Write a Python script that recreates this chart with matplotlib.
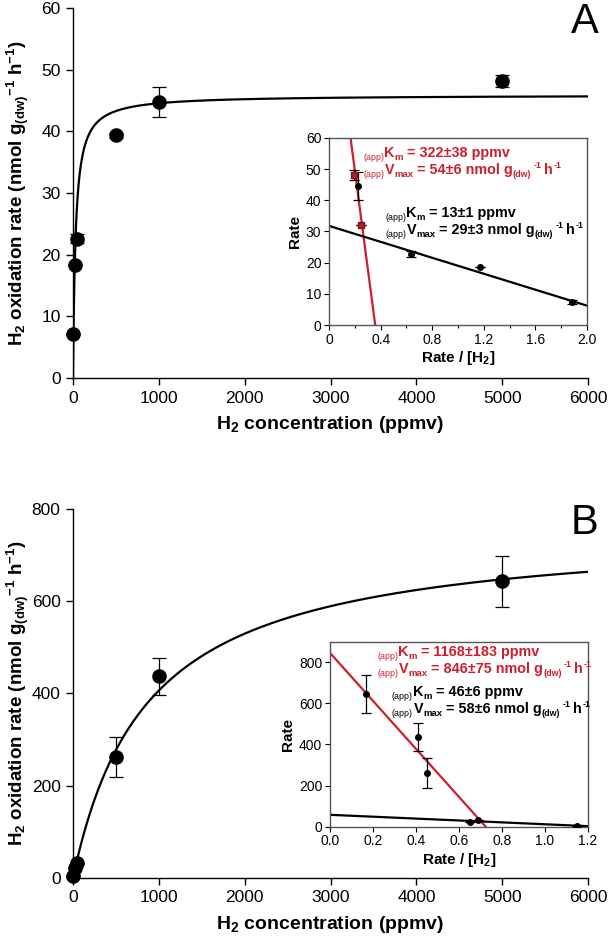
import numpy as np
import matplotlib
matplotlib.use('Agg')
import matplotlib.pyplot as plt
from matplotlib.transforms import offset_copy

plt.rcParams['font.family'] = ['Liberation Sans', 'DejaVu Sans']
plt.rcParams['mathtext.fontset'] = 'custom'
plt.rcParams['mathtext.rm'] = 'Liberation Sans'
plt.rcParams['mathtext.bf'] = 'Liberation Sans:bold'
plt.rcParams['mathtext.it'] = 'Liberation Sans:italic'

RED = '#cc1f2e'
W, H = 611, 947

# Panel A - main data
a_conc = [3, 20, 50, 500, 1000, 5000]
a_rate = [7.1, 18.3, 22.6, 39.4, 44.8, 48.2]
a_err = [0, 0, 0.7, 0.4, 2.4, 1.0]
a_vmax_fit, a_km_fit = 45.9, 30

# Panel A - inset (Eadie-Hofstee)
a_in_black_x = [0.225, 0.636, 1.173, 1.88]
a_in_black_y = [44.7, 22.9, 18.5, 7.4]
a_in_black_err = [4.5, 1.0, 0, 0.5]
a_in_red_x = [0.196, 0.248]
a_in_red_y = [48.1, 32.0]
a_in_red_err = [1.5, 0]
a_red_line = (112.4, -314)     # intercept, slope
a_black_line = (31.8, -12.8)
a_red_km, a_red_vmax = '322±38', '54±6'
a_black_km, a_black_vmax = '13±1', '29±3'

# Panel B - main data
b_conc = [3, 20, 50, 500, 1000, 5000]
b_rate = [5, 21, 33, 262, 437, 643]
b_err = [0, 0, 0, 44, 40, 55]
b_vmax_fit, b_km_fit = 760, 870

# Panel B - inset
b_in_x = [0.167, 0.411, 0.45, 0.651, 0.69, 1.148]
b_in_y = [645, 438, 261, 21, 33, 5]
b_in_err = [92, 68, 75, 0, 0, 0]
b_red_line = (846, -1168)
b_black_line = (58, -46)
b_red_km, b_red_vmax = '1168±183', '846±75'
b_black_km, b_black_vmax = '46±6', '58±6'

ylab = r'H$_\mathbf{2}$ oxidation rate (nmol g$_\mathbf{(dw)}$$^\mathbf{-1}$ h$^\mathbf{-1}$)'
xlab = r'H$_\mathbf{2}$ concentration (ppmv)'


def rich(fig, x_px, y_px, pieces, color):
    # draw pieces of text one after another on a common baseline
    renderer = fig.canvas.get_renderer()
    x0, y0 = x_px / W, 1 - y_px / H
    dx = 0
    for s, size, dy, bold, gap in pieces:
        dx += gap
        tr = offset_copy(fig.transFigure, fig=fig, x=dx, y=dy, units='points')
        t = fig.text(x0, y0, s, fontsize=size, color=color, transform=tr,
                     fontweight='bold' if bold else 'normal',
                     ha='left', va='baseline')
        dx += t.get_window_extent(renderer).width * 72 / fig.dpi


def km_line(km):
    return [('(app)', 6.4, -2.3, False, 0), ('K', 10.4, 0, True, 0.3),
            ('m', 6.8, -2.3, True, 0), ('= ' + km + ' ppmv', 10.4, 0, True, 2.7)]


def vmax_line(vmax):
    return [('(app)', 6.4, -2.3, False, 0), ('V', 10.4, 0, True, 0.3),
            ('max', 6.8, -2.3, True, 0), ('= ' + vmax + ' nmol g', 10.4, 0, True, 2.7),
            ('(dw)', 6.4, -2.3, True, 0.3), ('-1', 6.4, 4, True, 1.3),
            ('h', 10.4, 0, True, 2.2), ('-1', 6.4, 4, True, 0.3)]


def main_axes(ax, conc, rate, err, vmax, km, ymax, ystep, letter):
    xs = np.linspace(0, 6000, 3000)
    ax.plot(xs, vmax * xs / (km + xs), color='black', lw=1.6, zorder=2)
    ax.errorbar(conc, rate, yerr=err, fmt='o', color='black', ms=9.5,
                ecolor='black', elinewidth=0.9, capsize=5, capthick=0.9, zorder=3,
                clip_on=False)
    ax.set_xlim(0, 6000)
    ax.set_ylim(0, ymax)
    ax.set_xticks(range(0, 6001, 1000))
    ax.set_yticks(np.arange(0, ymax + 1, ystep))
    for s in ['top', 'right']:
        ax.spines[s].set_visible(False)
    for s in ['left', 'bottom']:
        ax.spines[s].set_linewidth(1.0)
    ax.tick_params(direction='out', length=5, width=1.0, labelsize=12.5, pad=4)
    ax.set_xlabel(xlab, fontsize=14, fontweight='bold', labelpad=6)
    ax.set_ylabel(ylab, fontsize=13.5, fontweight='bold')
    ax.yaxis.set_label_coords(-0.082, 0.5)
    ax.text(1.02, 1.015, letter, transform=ax.transAxes, fontsize=30,
            ha='right', va='top')


def inset_axes(ax, bx, by, berr, rx, ry, rerr, red_line, black_line,
               xmax, ymax, ystep, xticks, xlabels):
    xs = np.linspace(0, xmax, 200)
    ax.plot(xs, red_line[0] + red_line[1] * xs, color=RED, lw=1.6, zorder=2)
    ax.plot(xs, black_line[0] + black_line[1] * xs, color='black', lw=1.6, zorder=2)
    ax.errorbar(bx, by, yerr=berr, fmt='o', color='black', ms=4,
                ecolor='black', elinewidth=0.9, capsize=3.5, capthick=0.9, zorder=3)
    if rx:
        ax.errorbar(rx, ry, yerr=rerr, fmt='s', mfc='#b01c28', mec='#7a1018', ms=4,
                    ecolor='black', elinewidth=0.9, capsize=3.5, capthick=0.9, zorder=3)
    ax.set_xlim(0, xmax)
    ax.set_ylim(0, ymax)
    ax.set_xticks(xticks)
    ax.set_xticklabels(xlabels)
    ax.set_yticks(np.arange(0, ymax + 1, ystep))
    for s in ax.spines.values():
        s.set_color('#555555')
        s.set_linewidth(1.0)
    ax.tick_params(direction='out', length=3.5, width=0.8, labelsize=10, pad=2)
    ax.set_xlabel(r'Rate / [H$_\mathbf{2}$]', fontsize=11, fontweight='bold', labelpad=2)
    ax.set_ylabel('Rate', fontsize=11, fontweight='bold', labelpad=3)


fig = plt.figure(figsize=(W / 100, H / 100), dpi=100)

axA = fig.add_axes([0.1195, 0.6008, 0.843, 0.3907])
main_axes(axA, a_conc, a_rate, a_err, a_vmax_fit, a_km_fit, 60, 10, 'A')

axB = fig.add_axes([0.1195, 0.0729, 0.843, 0.3897])
main_axes(axB, b_conc, b_rate, b_err, b_vmax_fit, b_km_fit, 800, 200, 'B')

insA = fig.add_axes([0.5385, 0.6568, 0.4223, 0.1975])
inset_axes(insA, a_in_black_x, a_in_black_y, a_in_black_err,
           a_in_red_x, a_in_red_y, a_in_red_err, a_red_line, a_black_line,
           2.0, 60, 10, [0, 0.4, 0.8, 1.2, 1.6, 2.0],
           ['0', '0.4', '0.8', '1.2', '1.6', '2.0'])
insA.set_xticks(np.arange(0, 2.01, 0.2), minor=True)
insA.tick_params(which='minor', direction='out', length=2.5, width=0.8)

insB = fig.add_axes([0.540, 0.1270, 0.4223, 0.1954])
inset_axes(insB, b_in_x, b_in_y, b_in_err, [], [], [], b_red_line, b_black_line,
           1.2, 900, 200, np.arange(0, 1.21, 0.2),
           ['0.0', '0.2', '0.4', '0.6', '0.8', '1.0', '1.2'])

# kinetic parameter texts
rich(fig, 363, 157, km_line(a_red_km), RED)
rich(fig, 363, 174, vmax_line(a_red_vmax), RED)
rich(fig, 385, 217, km_line(a_black_km), 'black')
rich(fig, 385, 234, vmax_line(a_black_vmax), 'black')
rich(fig, 377, 656, km_line(b_red_km), RED)
rich(fig, 377, 673, vmax_line(b_red_vmax), RED)
rich(fig, 392, 696, km_line(b_black_km), 'black')
rich(fig, 392, 713, vmax_line(b_black_vmax), 'black')

fig.savefig('out.png', dpi=100)
